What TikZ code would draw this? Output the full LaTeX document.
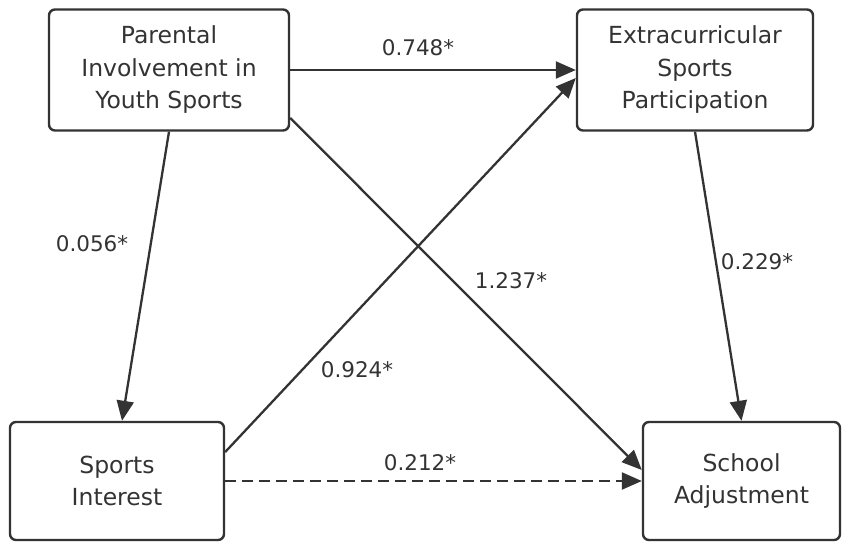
\documentclass[tikz,border=0pt]{standalone}
\usepackage{fontspec}
\setmainfont{DejaVu Sans}
\usetikzlibrary{arrows.meta}
\definecolor{ink}{HTML}{333333}
\begin{document}
\begin{tikzpicture}[x=1pt,y=1pt,
  box/.style={draw=ink, line width=2.4pt, rounded corners=6pt, align=center,
    font=\fontsize{23.5}{32.5}\selectfont, text=ink, inner sep=0pt},
  conn/.style={draw=ink, line width=2.3pt, -{Triangle[length=20pt,width=17pt]}},
  lbl/.style={font=\fontsize{21.5}{25}\selectfont, text=ink, inner sep=0pt}]
\useasboundingbox (0,0) rectangle (851,550);
\node[box, minimum width=240pt, minimum height=121pt] (pi) at (169,480) {Parental\\Involvement in\\Youth Sports};
\node[box, minimum width=236pt, minimum height=121pt] (esp) at (695,480) {Extracurricular\\Sports\\Participation};
\node[box, minimum width=214pt, minimum height=118pt] (si) at (117,69) {Sports\\Interest};
\node[box, minimum width=197pt, minimum height=118pt] (sa) at (741.5,69) {School\\Adjustment};
\draw[conn] (pi.east) -- (esp.west);
\draw[conn] (pi.south) -- ([xshift=5pt]si.north);
\draw[conn] ([yshift=-48pt]pi.east) -- ([yshift=11pt]sa.west);
\draw[conn] ([yshift=29pt]si.east) -- ([yshift=-8pt]esp.west);
\draw[conn] (esp.south) -- (sa.north);
\draw[conn, dash pattern=on 11pt off 6pt] (si.east) -- (sa.west);
\node[lbl] (l1) at (418,502) {0.748*};
\node[lbl] (l2) at (92,306) {0.056*};
\node[lbl] (l3) at (511,269) {1.237*};
\node[lbl] (l4) at (357,180) {0.924*};
\node[lbl] (l5) at (757,288) {0.229*};
\node[lbl] (l6) at (420,87) {0.212*};
\end{tikzpicture}
\end{document}
